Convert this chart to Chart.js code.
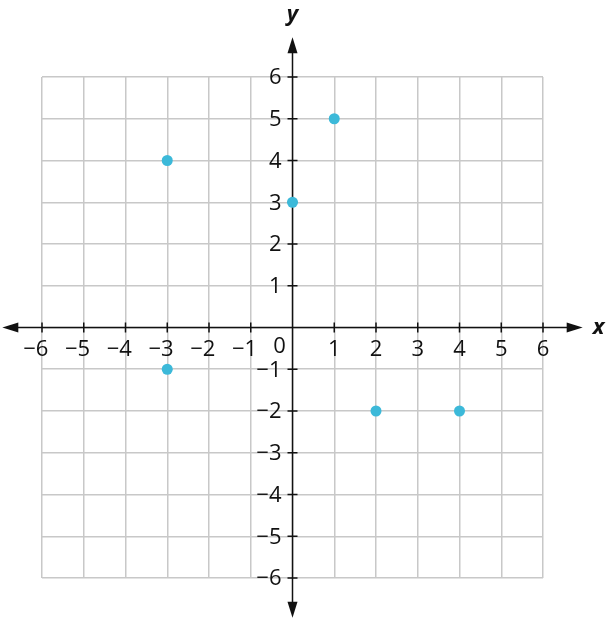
<!DOCTYPE html>
<html>
<head>
<meta charset="utf-8">
<script src="https://cdn.jsdelivr.net/npm/chart.js@4/dist/chart.umd.min.js"></script>
<style>
  html, body { margin: 0; padding: 0; background: #fff; }
  #wrap { width: 608px; height: 620px; position: relative; }
</style>
</head>
<body>
<div id="wrap"><canvas id="plane"></canvas></div>
<script>
// ── Coordinate plane with plotted points ──

const xValues = [-3, -3, 0, 1, 2, 4];
const yValues = [4, -1, 3, 5, -2, -2];
const tickValues = [-6, -5, -4, -3, -2, -1, 1, 2, 3, 4, 5, 6];
const axisMin = -6;
const axisMax = 6;
const axisReach = 6.95;   // arrows run past the grid

const pointColor = '#3cb9d9';
const gridColor = '#c8c8c8';
const inkColor = '#111';
const labelFont = '22px "Open Sans"';

const fmt = v => (v < 0 ? '\u2212' + Math.abs(v) : String(v));

// Draws the axes, arrows, ticks and labels from the chart's own scales
const axesPlugin = {
  id: 'axesPlugin',
  beforeDatasetsDraw(chart) {
    const { ctx, scales: { x, y } } = chart;
    const x0 = x.getPixelForValue(0);
    const y0 = y.getPixelForValue(0);
    const xl = x.getPixelForValue(-axisReach), xr = x.getPixelForValue(axisReach);
    const yt = y.getPixelForValue(axisReach), yb = y.getPixelForValue(-axisReach);

    ctx.save();
    ctx.strokeStyle = inkColor;
    ctx.fillStyle = inkColor;
    ctx.lineWidth = 1.5;

    ctx.beginPath();
    ctx.moveTo(xl + 10, y0); ctx.lineTo(xr - 10, y0);
    ctx.moveTo(x0, yt + 10); ctx.lineTo(x0, yb - 10);
    ctx.stroke();

    const arrow = (tx, ty, dx, dy) => {
      const len = 16, half = 5;
      ctx.beginPath();
      ctx.moveTo(tx, ty);
      ctx.lineTo(tx - dx * len - dy * half, ty - dy * len - dx * half);
      ctx.lineTo(tx - dx * len + dy * half, ty - dy * len + dx * half);
      ctx.closePath();
      ctx.fill();
    };
    arrow(xl, y0, -1, 0);
    arrow(xr, y0, 1, 0);
    arrow(x0, yt, 0, -1);
    arrow(x0, yb, 0, 1);

    // tick marks
    ctx.beginPath();
    tickValues.forEach(v => {
      const px = x.getPixelForValue(v);
      ctx.moveTo(px, y0 - 5); ctx.lineTo(px, y0 + 5);
      const py = y.getPixelForValue(v);
      ctx.moveTo(x0 - 5, py); ctx.lineTo(x0 + 5, py);
    });
    ctx.stroke();

    // tick labels
    ctx.font = labelFont;
    ctx.textBaseline = 'middle';
    const digitHalf = ctx.measureText('6').width / 2;
    tickValues.forEach(v => {
      const px = x.getPixelForValue(v);
      if (v < 0) {
        ctx.textAlign = 'right';
        ctx.fillText(fmt(v), px + digitHalf, y0 + 22);
      } else {
        ctx.textAlign = 'center';
        ctx.fillText(fmt(v), px, y0 + 22);
      }
      ctx.textAlign = 'right';
      ctx.fillText(fmt(v), x0 - 11, y.getPixelForValue(v) + 1);
    });
    ctx.textAlign = 'center';
    ctx.fillText('0', x0 - 13, y0 + 19);

    // axis names
    ctx.font = 'italic bold 22px "Open Sans"';
    ctx.textAlign = 'center';
    ctx.fillText('y', x0, 15);
    ctx.fillText('x', xr + 16, y0);
    ctx.restore();
  }
};

new Chart(document.getElementById('plane'), {
  type: 'scatter',
  data: {
    datasets: [{
      data: xValues.map((v, i) => ({ x: v, y: yValues[i] })),
      backgroundColor: pointColor,
      borderColor: pointColor,
      pointRadius: 5.5,
      pointHoverRadius: 5.5,
      borderWidth: 0
    }]
  },
  options: {
    responsive: true,
    maintainAspectRatio: false,
    animation: false,
    layout: { padding: { left: 42, right: 65, top: 77, bottom: 42 } },
    plugins: { legend: { display: false }, tooltip: { enabled: false } },
    scales: {
      x: {
        type: 'linear', min: axisMin, max: axisMax,
        ticks: { display: false, stepSize: 1 },
        grid: { color: gridColor, lineWidth: 1.5, drawTicks: false },
        border: { display: false }
      },
      y: {
        type: 'linear', min: axisMin, max: axisMax,
        ticks: { display: false, stepSize: 1 },
        grid: { color: gridColor, lineWidth: 1.5, drawTicks: false },
        border: { display: false }
      }
    }
  },
  plugins: [axesPlugin]
});
</script>
</body>
</html>
